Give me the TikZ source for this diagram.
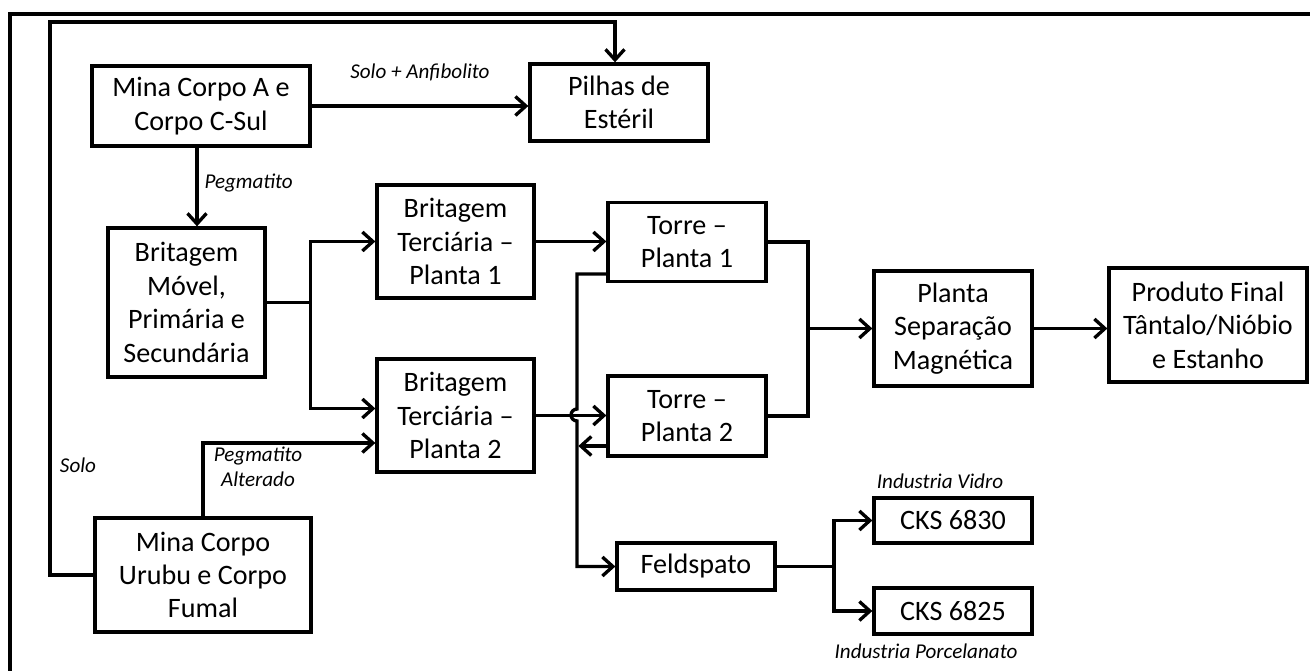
\documentclass[tikz,border=0pt]{standalone}
\usepackage{fontspec}
\setmainfont{Carlito}
\usetikzlibrary{arrows.meta,positioning,calc}

\begin{document}
\begin{tikzpicture}[
    x=0.02cm, y=-0.02cm,
    >={Straight Barb[length=2.1mm,width=3.8mm]},
    box/.style={rectangle, draw, line width=1.9pt, align=center, inner sep=2pt, font=\fontsize{16}{19}\selectfont},
    arrow/.style={->, line width=1.9pt},
    link/.style={line width=1.9pt},
    lbl/.style={font=\fontsize{12}{14}\selectfont\itshape, align=center},
]
\useasboundingbox (0,0) rectangle (1310,671);
\draw[link] (10,671) -- (10,14) -- (1310,14);

% mines and waste
\node[box, minimum width=4.36cm, minimum height=1.6cm] (mineA) at (201,106) {Mina Corpo A e\\Corpo C-Sul};
\node[box, minimum width=3.56cm, minimum height=1.54cm] (pilhas) at (619,102.5) {Pilhas de\\Estéril};
\node[box, minimum width=4.32cm, minimum height=2.28cm] (mineU) at (203,575) {Mina Corpo\\Urubu e Corpo\\Fumal};

% crushing
\node[box, minimum width=3.14cm, minimum height=2.98cm] (britMovel) at (186.5,302.5) {Britagem\\Móvel,\\Primária e\\Secundária};
\node[box, minimum width=3.14cm, minimum height=2.26cm] (britT1) at (455.5,241.5) {Britagem\\Terciária --\\Planta 1};
\node[box, minimum width=3.14cm, minimum height=2.26cm] (britT2) at (455.5,415.5) {Britagem\\Terciária --\\Planta 2};

% towers and products
\node[box, minimum width=3.16cm, minimum height=1.58cm] (torre1) at (687,242) {Torre --\\Planta 1};
\node[box, minimum width=3.16cm, minimum height=1.6cm] (torre2) at (687,416) {Torre --\\Planta 2};
\node[box, minimum width=3.16cm, minimum height=2.3cm] (sepMag) at (953,328.5) {Planta\\Separação\\Magnética};
\node[box, minimum width=3.96cm, minimum height=2.28cm] (produto) at (1208,325) {Produto Final\\Tântalo/Nióbio\\e Estanho};
\node[box, minimum width=3.16cm, minimum height=0.94cm] (feld) at (696,566.5) {Feldspato};
\node[box, minimum width=3.16cm, minimum height=0.9cm] (cks30) at (953,520.5) {CKS 6830};
\node[box, minimum width=3.16cm, minimum height=0.92cm] (cks25) at (953,611) {CKS 6825};

\node[lbl, above=1pt of cks30, xshift=-0.26cm] (vidro) {Industria Vidro};
\node[lbl, below=1pt of cks25, xshift=-0.54cm] (porcel) {Industria Porcelanato};

% connectors
\draw[arrow] (mineA.east) -- node[lbl, above=0.34cm] (soloAnf) {Solo + Anfibolito} (mineA.east -| pilhas.west);
\draw[arrow] ([xshift=-0.08cm]mineA.south) -- node[lbl, right, pos=0.45] (pegm) {Pegmatito} ([xshift=-0.08cm]mineA.south |- britMovel.north);

\draw[link] (britMovel.east) -- ++(44,0) coordinate (split1);
\draw[arrow] (split1) |- (britT1.west);
\draw[arrow] (split1) |- ([yshift=0.14cm]britT2.west);

\draw[arrow] (mineU.north) |- ([yshift=-0.55cm]britT2.west);
\node[lbl] (pegAlt) at (258,467) {Pegmatito\\Alterado};

\coordinate (soloC) at (50,22);
\draw[arrow] (mineU.west) -| (soloC) -| ([xshift=-0.08cm]pilhas.north);
\node[lbl] (solo) at (78,465) {Solo};

\draw[arrow] (britT1.east) -- (britT1.east -| torre1.west);
\draw[arrow] (britT2.east) -- (torre2.west |- britT2.east);

\draw[arrow] ([yshift=-0.64cm]torre1.west) -| (577,409) arc[start angle=90, end angle=270, radius=0.12cm] |- (feld.west);
\draw[arrow] ([yshift=-0.6cm]torre2.west) -- ++(-28,0);

\coordinate (merge) at (808,328.5);
\draw[link] (torre1.east) -| (merge) |- (torre2.east);
\draw[arrow] (merge) -- (sepMag.west);
\draw[arrow] (sepMag.east) -- (sepMag.east -| produto.west);

\coordinate (splitF) at (834,566.5);
\draw[link] (feld.east) -- (splitF);
\draw[arrow] (splitF) |- (cks30.west);
\draw[arrow] (splitF) |- (cks25.west);
\end{tikzpicture}
\end{document}
